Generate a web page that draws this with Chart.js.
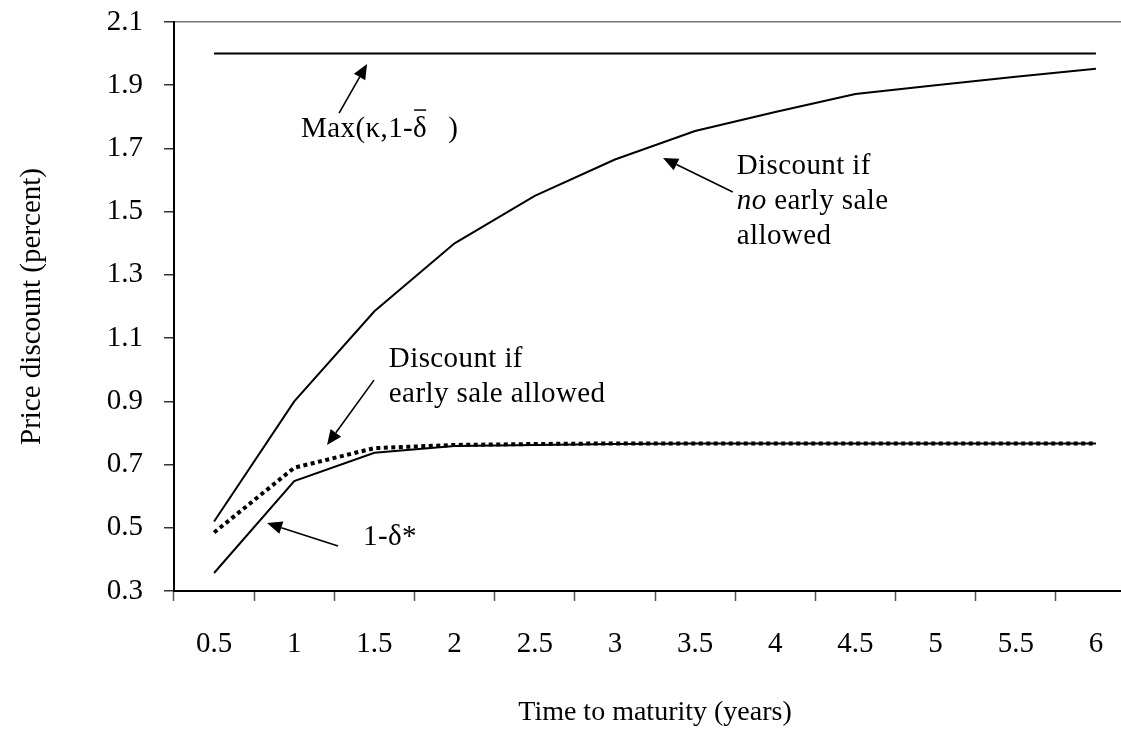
<!DOCTYPE html>
<html>
<head>
<meta charset="utf-8">
<script src="https://cdn.jsdelivr.net/npm/chart.js@4/dist/chart.umd.min.js"></script>
<style>
html,body{margin:0;padding:0;background:#fff;overflow:hidden;}
#wrap{width:1150px;height:736px;position:relative;}
</style>
</head>
<body>
<div id="wrap"><canvas id="c"></canvas></div>
<script>
// ---- data ----
const categories = ['0.5','1','1.5','2','2.5','3','3.5','4','4.5','5','5.5','6'];
const maxKappa   = [2.0, 2.0, 2.0, 2.0, 2.0, 2.0, 2.0, 2.0, 2.0, 2.0, 2.0, 2.0];
const noEarlySale = [0.52, 0.90, 1.185, 1.40, 1.55, 1.665, 1.755, 1.815, 1.872, 1.90, 1.927, 1.952];
const earlySale   = [0.485, 0.69, 0.752, 0.762, 0.765, 0.767, 0.767, 0.767, 0.767, 0.767, 0.767, 0.767];
const oneMinusDeltaStar = [0.357, 0.648, 0.737, 0.759, 0.762, 0.765, 0.767, 0.767, 0.767, 0.767, 0.767, 0.767];
const yTicks = [0.3, 0.5, 0.7, 0.9, 1.1, 1.3, 1.5, 1.7, 1.9, 2.1];

// annotation anchors in data coordinates (category index, value)
const annotations = [
  {lines:[[['Max(κ,1-δ', false]]], special:'maxk', at:[1.085, 1.736], from:[1.559, 1.812], to:[1.908, 1.967]},
  {lines:[[['Discount if', false]], [['no', true], [' early sale', false]], [['allowed', false]]], at:[6.52, 1.619], from:[6.47, 1.562], to:[5.60, 1.670]},
  {lines:[[['Discount if', false]], [['early sale allowed', false]]], at:[2.18, 1.009], from:[1.995, 0.967], to:[1.409, 0.762]},
  {lines:[[['1-δ*', false]]], at:[1.858, 0.446], from:[1.546, 0.442], to:[0.661, 0.515]}
];

const FONT = '"Liberation Serif", "DejaVu Serif", serif';
const FS = 29;
const FS_TITLE = 28;

function arrow(ctx, x1, y1, x2, y2) {
  const ang = Math.atan2(y2 - y1, x2 - x1);
  const hl = 15, hw = 6.5;
  const bx = x2 - hl * Math.cos(ang), by = y2 - hl * Math.sin(ang);
  ctx.beginPath();
  ctx.moveTo(x1, y1);
  ctx.lineTo(bx, by);
  ctx.lineWidth = 1.6;
  ctx.strokeStyle = '#000';
  ctx.stroke();
  ctx.beginPath();
  ctx.moveTo(x2, y2);
  ctx.lineTo(bx + hw * Math.sin(ang), by - hw * Math.cos(ang));
  ctx.lineTo(bx - hw * Math.sin(ang), by + hw * Math.cos(ang));
  ctx.closePath();
  ctx.fillStyle = '#000';
  ctx.fill();
}

const annotPlugin = {
  id: 'annot',
  afterDraw(chart) {
    const ctx = chart.ctx, xs = chart.scales.x, ys = chart.scales.y;
    ctx.save();
    ctx.textBaseline = 'alphabetic';
    ctx.textAlign = 'left';
    try { ctx.letterSpacing = '0.4px'; } catch (e) {}
    annotations.forEach(a => {
      const tx = xs.getPixelForValue(a.at[0]), ty = ys.getPixelForValue(a.at[1]);
      a.lines.forEach((line, li) => {
        let x = tx;
        const y = ty + li * 35;
        line.forEach(([txt, ital]) => {
          ctx.font = (ital ? 'italic ' : '') + FS + 'px ' + FONT;
          ctx.fillStyle = '#000';
          ctx.fillText(txt, x, y);
          x += ctx.measureText(txt).width;
        });
        if (a.special === 'maxk') {
          ctx.font = FS + 'px ' + FONT;
          const dw = ctx.measureText('δ').width;
          ctx.beginPath();
          ctx.moveTo(x - dw + 1, y - 27);
          ctx.lineTo(x - 1, y - 27);
          ctx.lineWidth = 1.5;
          ctx.stroke();
          ctx.fillText(')', x + 21, y);
        }
      });
      arrow(ctx, xs.getPixelForValue(a.from[0]), ys.getPixelForValue(a.from[1]),
                 xs.getPixelForValue(a.to[0]), ys.getPixelForValue(a.to[1]));
    });
    ctx.restore();
  }
};

const ds = (label, data, extra) => Object.assign({
  label, data, borderColor: '#000', backgroundColor: '#000', borderWidth: 2,
  pointRadius: 0, tension: 0, fill: false
}, extra || {});

new Chart(document.getElementById('c'), {
  type: 'line',
  data: {
    labels: categories,
    datasets: [
      ds('Max(κ,1-δ̄)', maxKappa),
      ds('Discount if no early sale allowed', noEarlySale),
      ds('1-δ*', oneMinusDeltaStar),
      ds('Discount if early sale allowed', earlySale, {borderDash:[4,3.5], borderWidth:4, borderCapStyle:'butt'})
    ]
  },
  options: {
    responsive: true,
    maintainAspectRatio: false,
    animation: false,
    layout: {padding: {top: 22, right: 14, left: 0, bottom: 0}},
    plugins: {legend: {display: false}, tooltip: {enabled: false}},
    scales: {
      x: {
        type: 'category',
        offset: true,
        grid: {offset: true, drawOnChartArea: false, tickLength: 10, tickColor: '#555', tickWidth: 1.5},
        border: {color: '#000', width: 2},
        ticks: {color: '#000', font: {family: FONT, size: FS}, padding: 26, maxRotation: 0, autoSkip: false},
        title: {display: true, text: 'Time to maturity (years)', color: '#000', font: {family: FONT, size: FS_TITLE}, padding: {top: 0, bottom: 7}},
        afterFit(s) { s.height = 145; s.paddingLeft = 0; s.paddingRight = 0; }
      },
      y: {
        min: 0.3, max: 2.1,
        afterBuildTicks(s) { s.ticks = yTicks.map(v => ({value: v})); },
        grid: {
          drawOnChartArea: true,
          color: c => (c.tick && Math.abs(c.tick.value - 2.1) < 1e-6) ? '#777' : 'rgba(0,0,0,0)',
          lineWidth: 1.5,
          tickLength: 10, tickColor: '#333', tickWidth: 1.5
        },
        border: {color: '#000', width: 2},
        ticks: {color: '#000', font: {family: FONT, size: FS}, padding: 21, callback: v => Number(v).toFixed(1)},
        title: {display: true, text: 'Price discount (percent)', color: '#000', font: {family: FONT, size: 29}, padding: {top: 15, bottom: 0}},
        afterFit(s) { s.width = 174; s.paddingTop = 0; s.paddingBottom = 0; }
      }
    }
  },
  plugins: [annotPlugin]
});
</script>
</body>
</html>
